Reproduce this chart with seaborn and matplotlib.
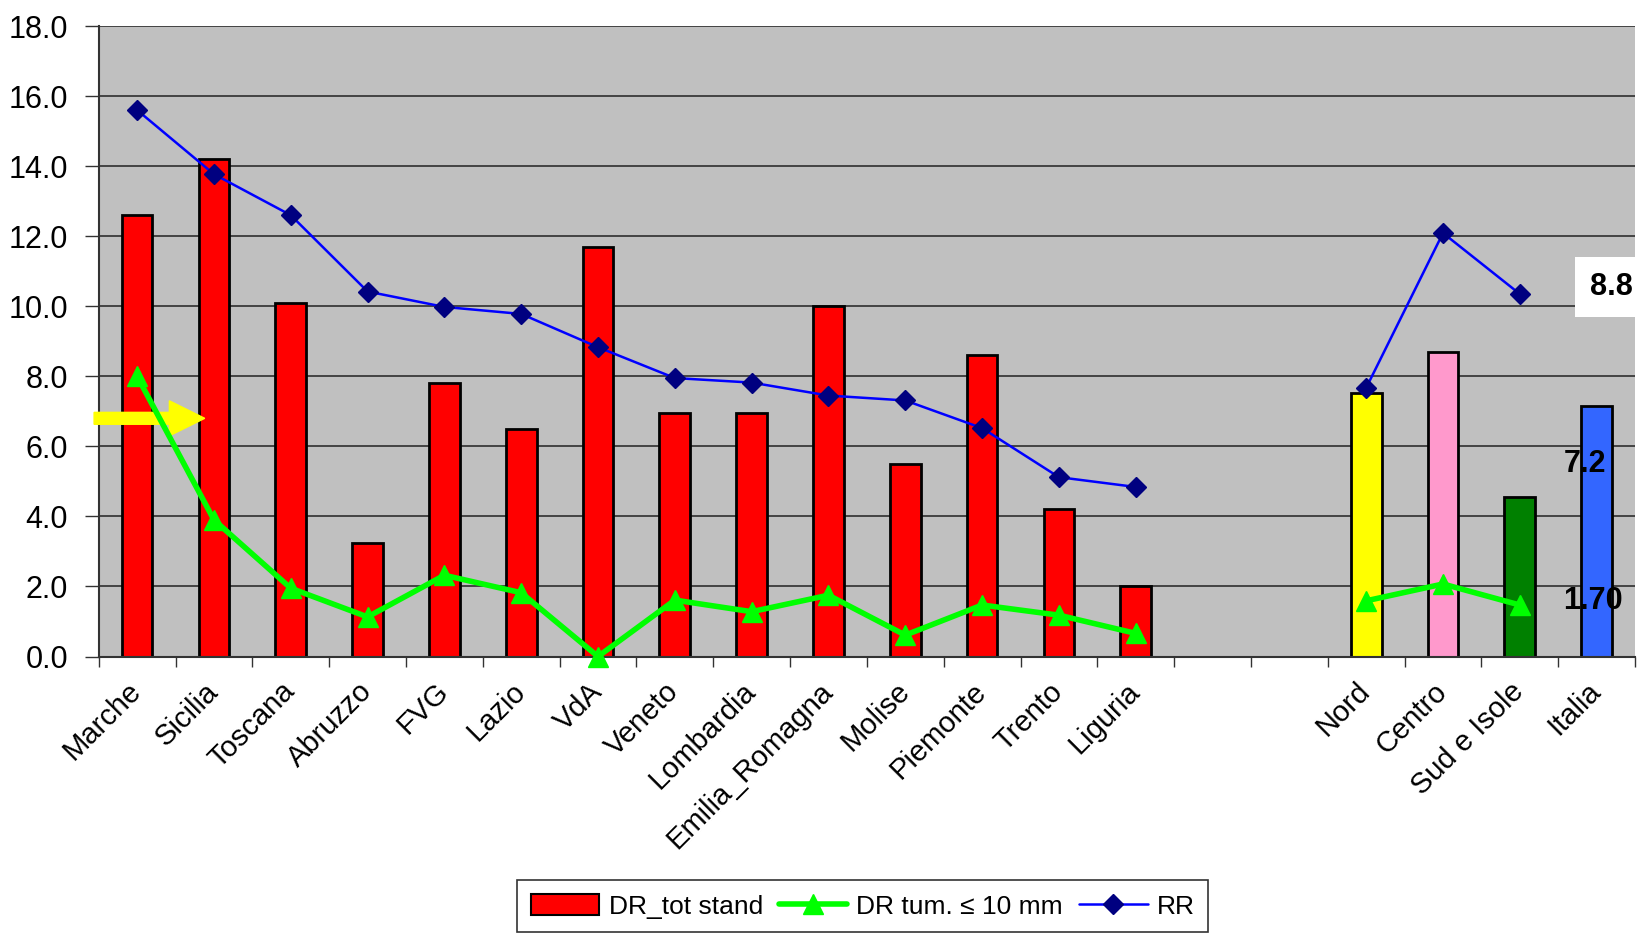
import numpy as np
import pandas as pd
import matplotlib
matplotlib.use("Agg")
import matplotlib.pyplot as plt
import matplotlib.transforms as mtransforms
from matplotlib.patches import Patch, FancyArrow
from matplotlib.lines import Line2D
from matplotlib.ticker import FixedLocator
import seaborn as sns

# categories (two empty slots separate regions from macro-areas)
categories = ["Marche", "Sicilia", "Toscana", "Abruzzo", "FVG", "Lazio", "VdA",
              "Veneto", "Lombardia", "Emilia_Romagna", "Molise", "Piemonte",
              "Trento", "Liguria", " ", "  ", "Nord", "Centro", "Sud e Isole", "Italia"]

# DR_tot stand (bars)
dr_tot = [12.6, 14.2, 10.1, 3.25, 7.82, 6.5, 11.7, 6.95, 6.95, 10.0, 5.5, 8.6,
          4.2, 2.02, np.nan, np.nan, 7.53, 8.68, 4.55, 7.16]
# DR tum. <= 10 mm (green line)
dr_tum = [8.0, 3.9, 1.95, 1.13, 2.32, 1.82, 0.0, 1.61, 1.28, 1.75, 0.61, 1.47,
          1.18, 0.66, np.nan, np.nan, 1.59, 2.07, 1.47, 1.70]
# RR (blue line)
rr = [15.6, 13.77, 12.6, 10.42, 9.98, 9.78, 8.83, 7.95, 7.82, 7.45, 7.31, 6.52,
      5.12, 4.84, np.nan, np.nan, 7.67, 12.09, 10.35, 8.8]

bar_colors = {c: "#FF0000" for c in categories}
bar_colors.update({"Nord": "#FFFF00", "Centro": "#FF99CC",
                   "Sud e Isole": "#008000", "Italia": "#3366FF"})

sns.set_style("white")
plt.rcParams["font.family"] = ["Liberation Sans", "DejaVu Sans"]
plt.rcParams["text.color"] = "black"
plt.rcParams["xtick.color"] = "black"
plt.rcParams["ytick.color"] = "black"

fig = plt.figure(figsize=(16.37, 9.36), dpi=100)
ax = fig.add_axes([0.0603, 0.2986, 0.9385, 0.6736])
ax.set_facecolor("#C0C0C0")

df = pd.DataFrame({"cat": categories, "val": dr_tot})
sns.barplot(data=df, x="cat", y="val", hue="cat", order=categories,
            palette=bar_colors, saturation=1, width=0.4, edgecolor="black",
            linewidth=2, legend=False, ax=ax, zorder=2)

# yellow arrow pointing at Sicilia
ax.add_patch(FancyArrow(-0.56, 6.8, 1.44, 0, width=0.34, head_width=1.0,
                        head_length=0.46, length_includes_head=True,
                        color="#FFFF00", clip_on=False, zorder=3))

n = len(categories) - 1  # Italia shown only as labels
x = np.arange(n)
ax.plot(x, dr_tum[:n], color="#00FF00", lw=4, marker="^", ms=15,
        mfc="#00FF00", mec="#00FF00", zorder=4, clip_on=False)
ax.plot(x, rr[:n], color="#0000FF", lw=1.8, marker="D", ms=10,
        mfc="#000080", mec="#000080", zorder=5, clip_on=False)

# Italia value labels
it = len(categories) - 1
ax.text(it - 0.43, 5.51, f"{dr_tot[it]:.1f}", ha="left", va="center",
        fontsize=22, fontweight="bold", color="black", zorder=6)
ax.text(it - 0.43, 1.58, f"{dr_tum[it]:.2f}", ha="left", va="center",
        fontsize=22, fontweight="bold", color="black", zorder=6)
ax.text(it - 0.08, 10.55, f"{rr[it]:.1f}", ha="left", va="center",
        fontsize=22, fontweight="bold", color="black", zorder=6, clip_on=False,
        bbox=dict(boxstyle="square,pad=0.5", fc="white", ec="none"))

ax.set_xlim(-0.5, len(categories) - 0.5)
ax.set_ylim(0, 18)
ax.set_yticks(np.arange(0, 18.1, 2))
ax.set_yticklabels([f"{v:.1f}" for v in np.arange(0, 18.1, 2)], fontsize=22)
ax.yaxis.grid(True, color="#222222", lw=1.1)
ax.set_axisbelow(True)
ax.set_xlabel("")
ax.set_ylabel("")

ax.set_xticks(range(len(categories)))
ax.set_xticklabels(categories, rotation=45, ha="right", va="center",
                   rotation_mode="anchor", fontsize=21)
shift = mtransforms.ScaledTranslation(-0.19, -0.02, fig.dpi_scale_trans)
for lbl in ax.get_xticklabels():
    lbl.set_transform(lbl.get_transform() + shift)
ax.xaxis.set_minor_locator(FixedLocator(np.arange(-0.5, len(categories), 1)))
ax.tick_params(axis="x", which="major", length=0, pad=22)
ax.tick_params(axis="x", which="minor", length=7, width=1, color="#333333",
               direction="out", bottom=True)
ax.tick_params(axis="y", length=10, width=1, color="#333333", direction="out",
               left=True, pad=12)

for s in ["top", "right"]:
    ax.spines[s].set_visible(False)
for s in ["left", "bottom"]:
    ax.spines[s].set_color("#333333")
    ax.spines[s].set_linewidth(1.5)

handles = [
    Patch(facecolor="#FF0000", edgecolor="black", linewidth=1.5),
    Line2D([], [], color="#00FF00", lw=4, marker="^", ms=15),
    Line2D([], [], color="#0000FF", lw=1.8, marker="D", ms=10,
           mfc="#000080", mec="#000080"),
]
labels = ["DR_tot stand", "DR tum. \u2264 10 mm", "RR"]
leg = fig.legend(handles, labels, loc="lower center",
                 bbox_to_anchor=(0.527, -0.004), ncol=3, fontsize=19,
                 frameon=True, fancybox=False, handlelength=2.6,
                 handleheight=0.9, columnspacing=0.6, handletextpad=0.35,
                 borderpad=0.5, borderaxespad=0.3)
leg.get_frame().set_edgecolor("black")
leg.get_frame().set_linewidth(1.2)

fig.savefig("out.png", dpi=100)
